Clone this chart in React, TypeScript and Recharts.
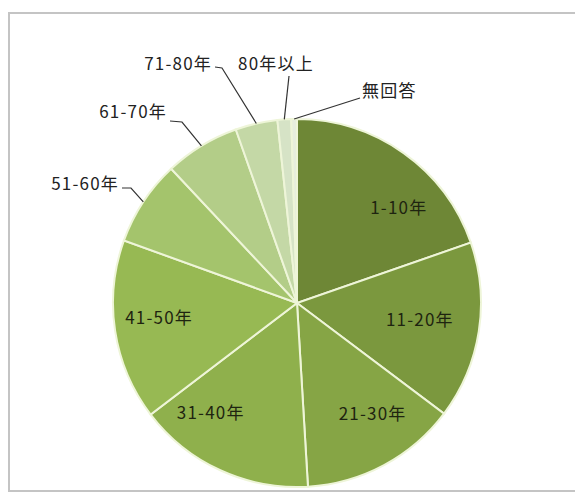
import React from 'react';
import { PieChart, Pie, Cell } from 'recharts';

const categories = ['1-10年', '11-20年', '21-30年', '31-40年', '41-50年', '51-60年', '61-70年', '71-80年', '80年以上', '無回答'];
const shares = [19.7, 15.6, 13.8, 15.6, 15.9, 7.5, 6.6, 3.7, 1.2, 0.5];
const colors = ['#6e8736', '#7b983e', '#86a545', '#8fb04c', '#97b953', '#a4c46c', '#b3cd88', '#c4d8a6', '#d6e3c6', '#e7eedd'];

const data = categories.map((name, i) => ({ name, value: shares[i] }));

if (typeof document !== 'undefined') {
  document.body.style.margin = '0';
  document.body.style.overflow = 'hidden';
}

const RAD = Math.PI / 180;
const FONT = '"Noto Sans CJK JP", "Noto Sans", sans-serif';

// inside labels: nudge from the default spot at 0.72R
const insideNudge: Record<number, [number, number]> = {
  0: [25, 11],
  1: [-8, -5],
  2: [13, -7],
  3: [-31, -12],
  4: [-7, -7],
};

// outside labels, relative to the centre: text spot, anchor, leader points
const outside: Record<number, { t: [number, number]; anchor: 'start' | 'middle' | 'end'; pts: Array<[number, number]> }> = {
  5: { t: [-178, -121], anchor: 'end', pts: [[-175, -115], [-166, -115]] },
  6: { t: [-130, -193], anchor: 'end', pts: [[-127, -182], [-115, -181]] },
  7: { t: [-85, -241], anchor: 'end', pts: [[-82, -236], [-75, -235]] },
  8: { t: [-21, -241], anchor: 'middle', pts: [[-8, -227]] },
  9: { t: [65, -214], anchor: 'start', pts: [[63, -205]] },
};

const textStyle = { fontSize: 17, fontFamily: FONT, letterSpacing: 1.2 };

const renderLabel = (props: any) => {
  const { cx, cy, midAngle, outerRadius, index, name } = props;
  const cos = Math.cos(-midAngle * RAD);
  const sin = Math.sin(-midAngle * RAD);
  if (insideNudge[index]) {
    const r = outerRadius * 0.72;
    const [nx, ny] = insideNudge[index];
    return (
      <text x={cx + r * cos + nx} y={cy + r * sin + ny} fill="#1e2410" style={textStyle} textAnchor="middle" dominantBaseline="central">
        {name}
      </text>
    );
  }
  const o = outside[index];
  const ex = cx + outerRadius * cos;
  const ey = cy + outerRadius * sin;
  const path = o.pts.map(([x, y], i) => `${i === 0 ? 'M' : 'L'}${cx + x},${cy + y}`).join(' ') + ` L${ex},${ey}`;
  return (
    <g>
      <path d={path} stroke="#333" strokeWidth={1.2} fill="none" />
      <text x={cx + o.t[0]} y={cy + o.t[1]} fill="#222" style={textStyle} textAnchor={o.anchor} dominantBaseline="central">
        {name}
      </text>
    </g>
  );
};

export default function App() {
  return (
    <div style={{ position: 'relative', width: 575, height: 493, overflow: 'hidden' }}>
      <div
        style={{
          position: 'absolute',
          left: 8,
          top: 12,
          width: 580,
          height: 476,
          borderTop: '2px solid #c4c4c4',
          borderLeft: '2px solid #c4c4c4',
          borderBottom: '2px solid #c4c4c4',
        }}
      />
      <div style={{ position: 'absolute', left: 0, top: 0 }}>
        <PieChart width={575} height={493}>
          <Pie
            data={data}
            dataKey="value"
            nameKey="name"
            cx={292}
            cy={298}
            outerRadius={184}
            startAngle={90}
            endAngle={-270}
            stroke="#eef5d8"
            strokeWidth={2}
            label={renderLabel}
            labelLine={false}
            isAnimationActive={false}
          >
            {data.map((d, i) => (
              <Cell key={d.name} fill={colors[i]} />
            ))}
          </Pie>
        </PieChart>
      </div>
    </div>
  );
}
